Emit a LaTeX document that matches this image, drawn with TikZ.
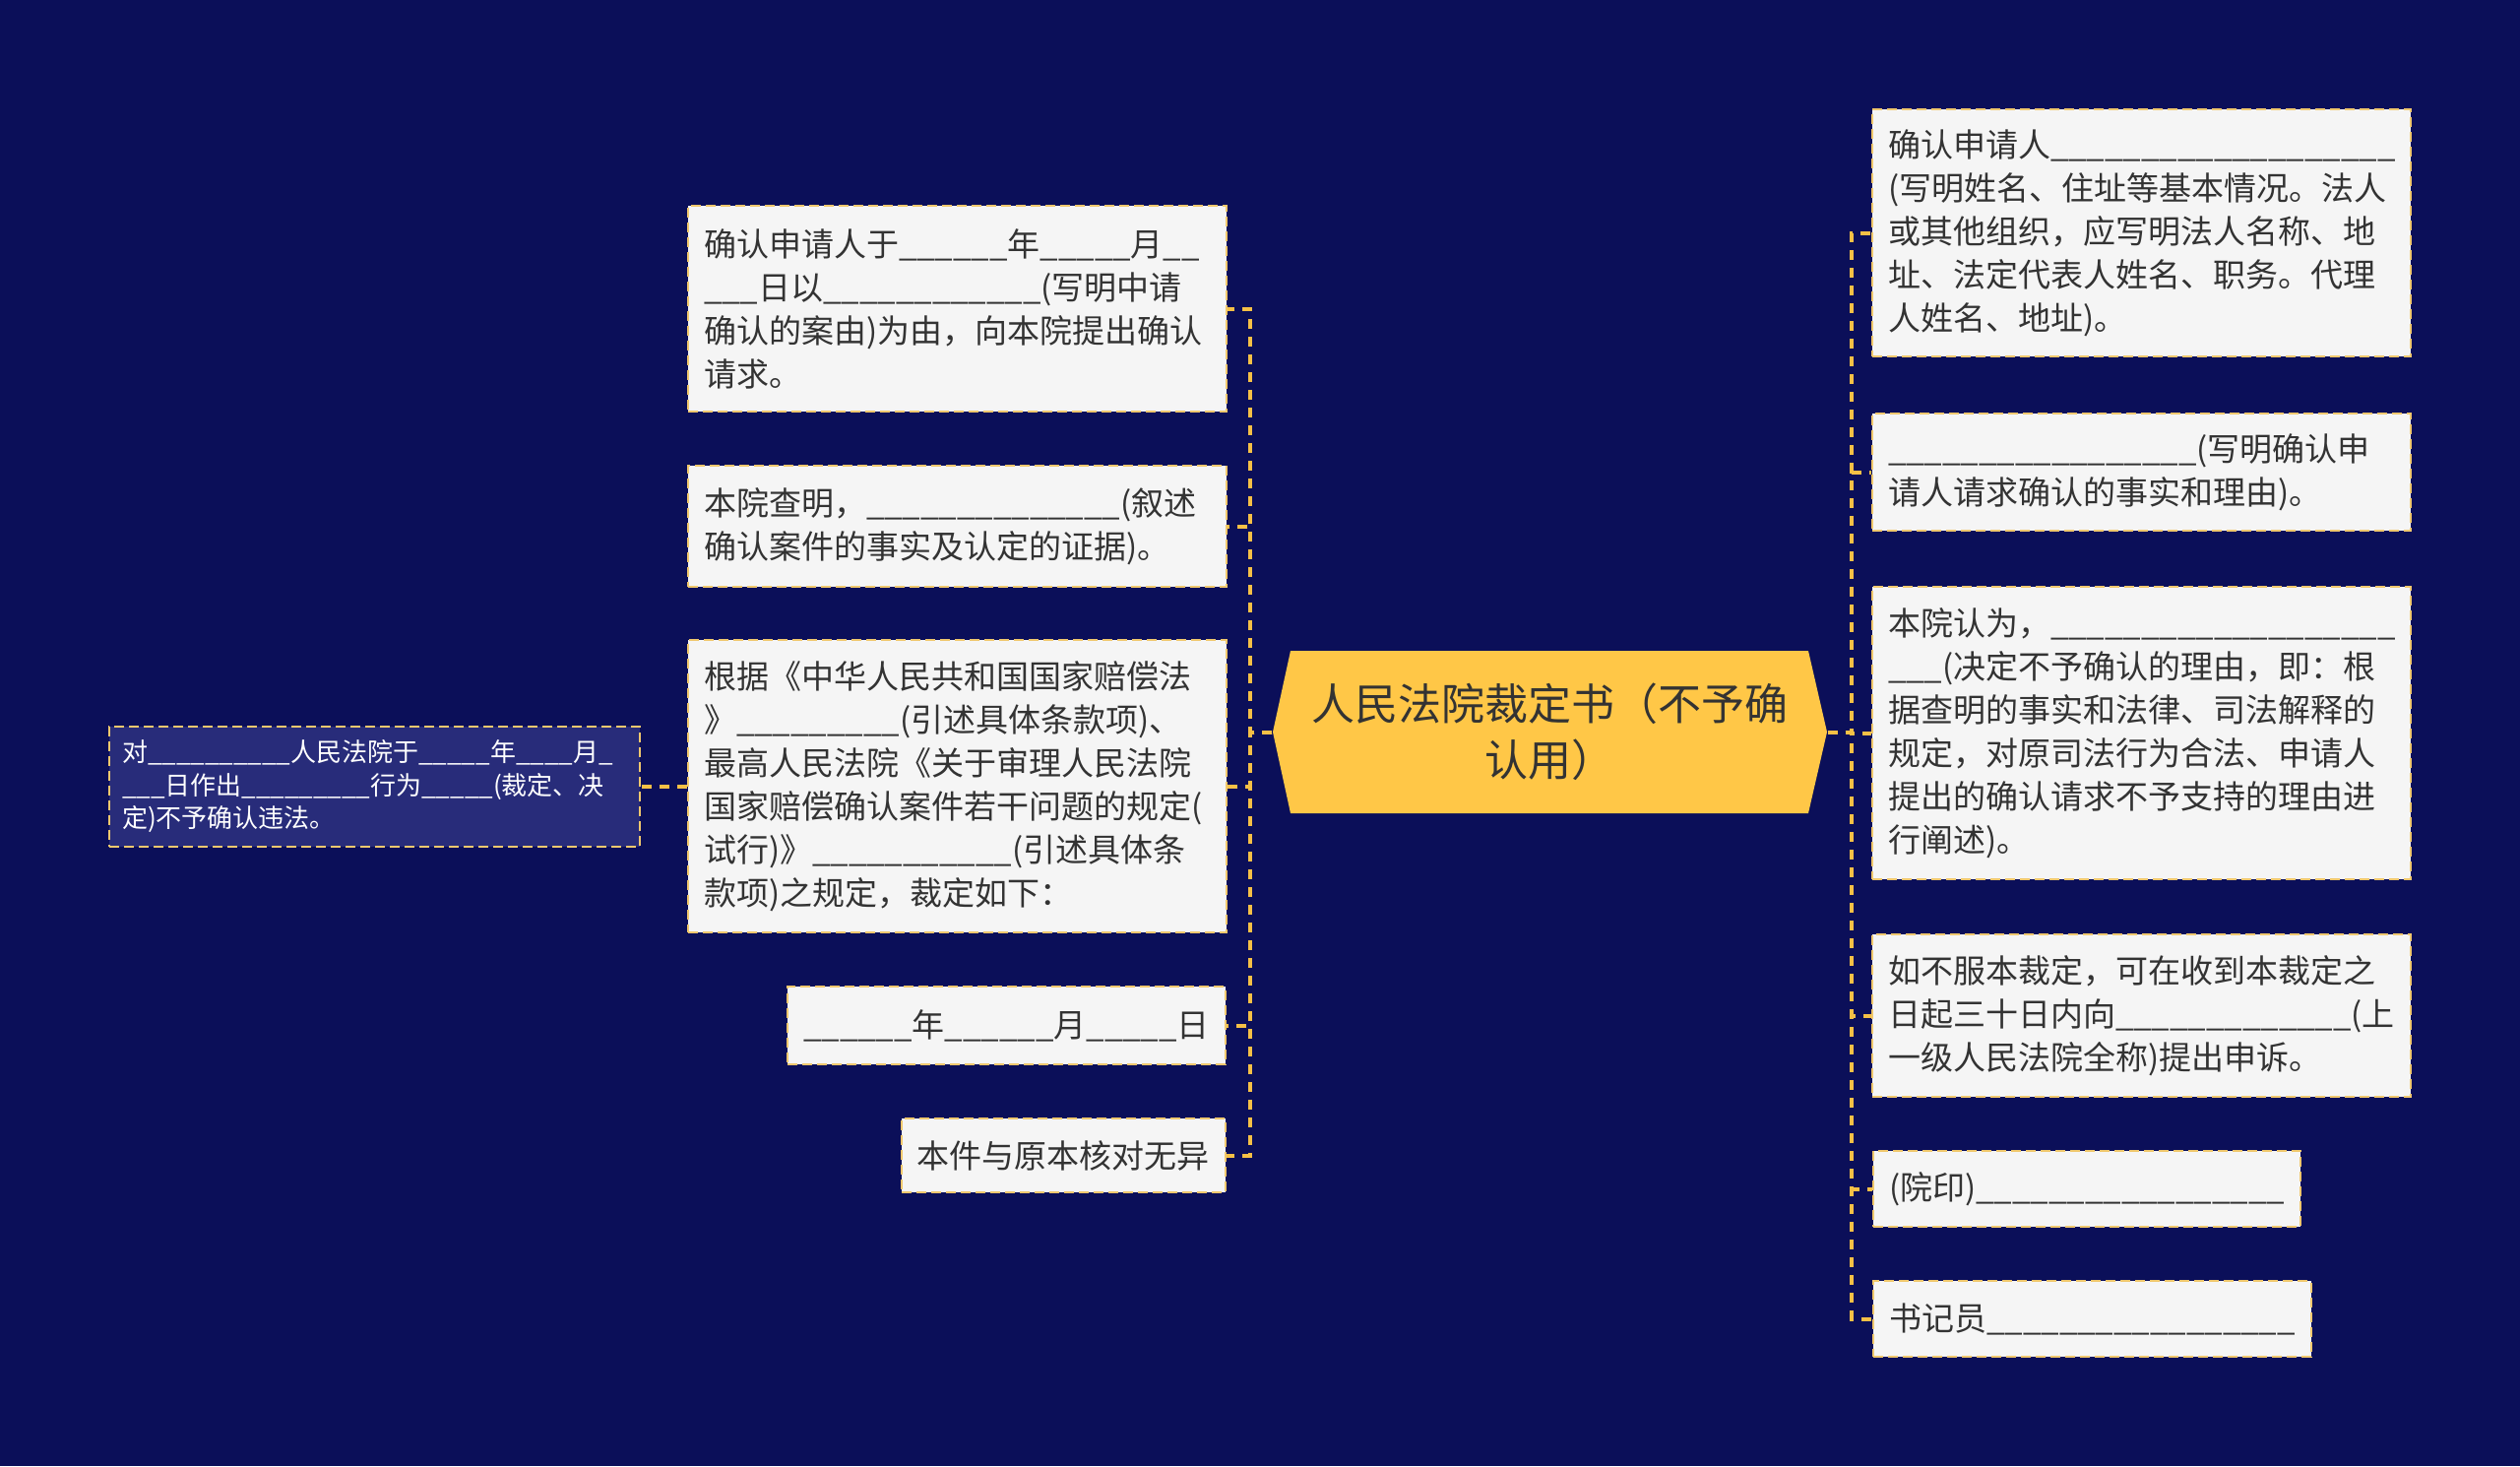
\documentclass[tikz,border=0pt]{standalone}
\usepackage{fontspec}
\setmainfont{Noto Sans CJK SC}

\definecolor{bgnavy}{RGB}{11,15,89}
\definecolor{rootyellow}{RGB}{255,199,71}
\definecolor{boxgrey}{RGB}{245,245,245}
\definecolor{dashgold}{RGB}{240,200,110}
\definecolor{linkgold}{RGB}{245,192,70}
\definecolor{navybox}{RGB}{40,44,122}
\definecolor{inkgrey}{RGB}{51,51,51}

% a row of underscores, as printed in the form
\newcommand{\blank}[1]{\foreach\n in {1,...,#1}{\_}}

\tikzset{every picture/.style={line width=0.75pt}}
\tikzset{
  leaf/.style={draw=dashgold, line width=1.2pt, dash pattern=on 5pt off 2.5pt, fill=boxgrey, text=inkgrey,
    align=left, inner xsep=8pt, inner ysep=0pt, font=\fontsize{16.5}{22}\selectfont},
  wideleaf/.style={leaf, text width=257.5pt},
  navyleaf/.style={leaf, fill=navybox, text=white, inner xsep=6.5pt, text width=256.5pt,
    font=\fontsize{13}{16.75}\selectfont},
  roottext/.style={minimum width=281.5pt, minimum height=82.5pt, inner sep=0pt, align=center,
    text=inkgrey, font=\fontsize{22}{28.5}\selectfont},
  link/.style={draw=linkgold, line width=2pt, dash pattern=on 5pt off 4pt}
}

\begin{document}
\begin{tikzpicture}[x=0.5pt,y=0.5pt,yscale=-1,xscale=1]
	\useasboundingbox (0,0) rectangle (2560,1489);
	%Shape: Background
	\fill [bgnavy] (0,0) rectangle (2560,1489);

	%Shape: Hexagon (root)
	\fill [rootyellow] (1293,743.5) -- (1311,661) -- (1837,661) -- (1856,743.5) -- (1837,826) -- (1311,826) -- cycle ;
	% Text Node
	\node [roottext] (root) at (1574.5,743.5) {人民法院裁定书（不予确\\认用）};

	% Left branch
	\node [wideleaf, minimum height=104.5pt] (l1) at (972.5,313.5) {确认申请人于\blank{6}年\blank{5}月\blank{2}\\\blank{3}日以\blank{12}(写明中请\\确认的案由)为由，向本院提出确认\\请求。};
	\node [wideleaf, minimum height=61.5pt] (l2) at (972.5,534.5) {本院查明，\blank{14}(叙述\\确认案件的事实及认定的证据)。};
	\node [wideleaf, minimum height=148.5pt] (l3) at (972.5,798.5) {根据《中华人民共和国国家赔偿法\\》\blank{9}(引述具体条款项)、\\最高人民法院《关于审理人民法院\\国家赔偿确认案件若干问题的规定(\\试行)》\blank{11}(引述具体条\\款项)之规定，裁定如下：};
	\node [leaf, minimum height=39.5pt, anchor=east] (l4) at (1246,1041.5) {\blank{6}年\blank{6}月\blank{5}日};
	\node [leaf, minimum height=37.5pt, anchor=east] (l5) at (1246,1173.5) {本件与原本核对无异};
	\node [navyleaf, minimum height=61pt] (l3a) at (380.5,799) {对\blank{10}人民法院于\blank{5}年\blank{4}月\blank{1}\\\blank{3}日作出\blank{9}行为\blank{5}(裁定、决\\定)不予确认违法。};

	% Right branch
	\node [wideleaf, minimum height=125.5pt] (r1) at (2175.5,236.5) {确认申请人\blank{19}\\(写明姓名、住址等基本情况。法人\\或其他组织，应写明法人名称、地\\址、法定代表人姓名、职务。代理\\人姓名、地址)。};
	\node [wideleaf, minimum height=59.5pt] (r2) at (2175.5,479.5) {\blank{17}(写明确认申\\请人请求确认的事实和理由)。};
	\node [wideleaf, minimum height=148.5pt] (r3) at (2175.5,744.5) {本院认为，\blank{19}\\\blank{3}(决定不予确认的理由，即：根\\据查明的事实和法律、司法解释的\\规定，对原司法行为合法、申请人\\提出的确认请求不予支持的理由进\\行阐述)。};
	\node [wideleaf, minimum height=82.5pt] (r4) at (2175.5,1031.5) {如不服本裁定，可在收到本裁定之\\日起三十日内向\blank{13}(上\\一级人民法院全称)提出申诉。};
	\node [leaf, minimum height=38.5pt, anchor=west] (r5) at (1902,1207.5) {(院印)\blank{17}};
	\node [leaf, minimum height=38.5pt, anchor=west] (r6) at (1902,1339.5) {书记员\blank{17}};

	% Connectors
	\coordinate (lspine) at (1270,743.5);
	\coordinate (rspine) at (1881,743.5);
	\foreach \c in {l1,l2,l3,l4,l5}
		\draw [link] (root.west) -- (lspine) |- (\c.east);
	\foreach \c in {r1,r2,r3,r4,r5,r6}
		\draw [link] (root.east) -- (rspine) |- (\c.west);
	\draw [link] (l3.west) -- (l3.west -| l3a.east);

\end{tikzpicture}
\end{document}
